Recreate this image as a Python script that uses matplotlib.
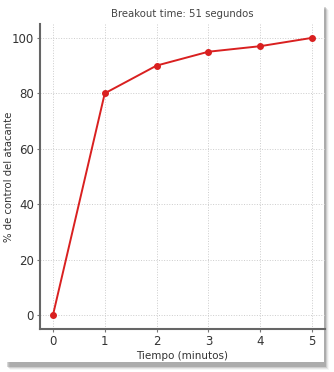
import matplotlib
matplotlib.use('Agg')
import matplotlib.pyplot as plt
from matplotlib.patches import Rectangle

# data
minutos = [0, 1, 2, 3, 4, 5]
control = [0, 80, 90, 95, 97, 100]
yticks = [0, 20, 40, 60, 80, 100]

fig = plt.figure(figsize=(3.34, 3.72), dpi=100)
fig.patch.set_facecolor('white')

# card shadow (screenshot look)
W, H = 334, 372
for i, a in enumerate([0.10, 0.18, 0.30, 0.45]):
    off = 4 - i
    fig.patches.append(Rectangle(((6 + off) / W, (6 - off) / H), 319 / W, 360 / H,
                                 transform=fig.transFigure, facecolor='#000000', alpha=a * 0.35,
                                 edgecolor='none', zorder=0))
fig.patches.append(Rectangle((0, 10 / H), 324 / W, 1 - 10 / H, transform=fig.transFigure,
                             facecolor='white', edgecolor='none', zorder=1))

ax = fig.add_axes([40 / W, 1 - 329 / H, 285 / W, 305 / H])
ax.set_zorder(2)
ax.patch.set_alpha(0)

ax.plot(minutos, control, color='#d92020', marker='o', markersize=4, linewidth=1.4)

ax.set_xticks(minutos)
ax.set_yticks(yticks)
ax.grid(True, linestyle=':', color='#cccccc', linewidth=0.7)
for s in ['top', 'right']:
    ax.spines[s].set_visible(False)
for s in ['left', 'bottom']:
    ax.spines[s].set_color('#666666')
    ax.spines[s].set_linewidth(1.5)
ax.tick_params(colors='#777777', labelcolor='#333333', labelsize=8.5, length=2.5, width=0.8, pad=2)

ax.set_title('Breakout time: 51 segundos', fontsize=7.3, color='#444444', pad=5)
ax.set_xlabel('Tiempo (minutos)', fontsize=7.5, color='#333333', labelpad=2)
ax.set_ylabel('% de control del atacante', fontsize=7.3, color='#333333')
ax.yaxis.set_label_coords(-0.092, 0.5)

plt.savefig('out.png', dpi=100)
